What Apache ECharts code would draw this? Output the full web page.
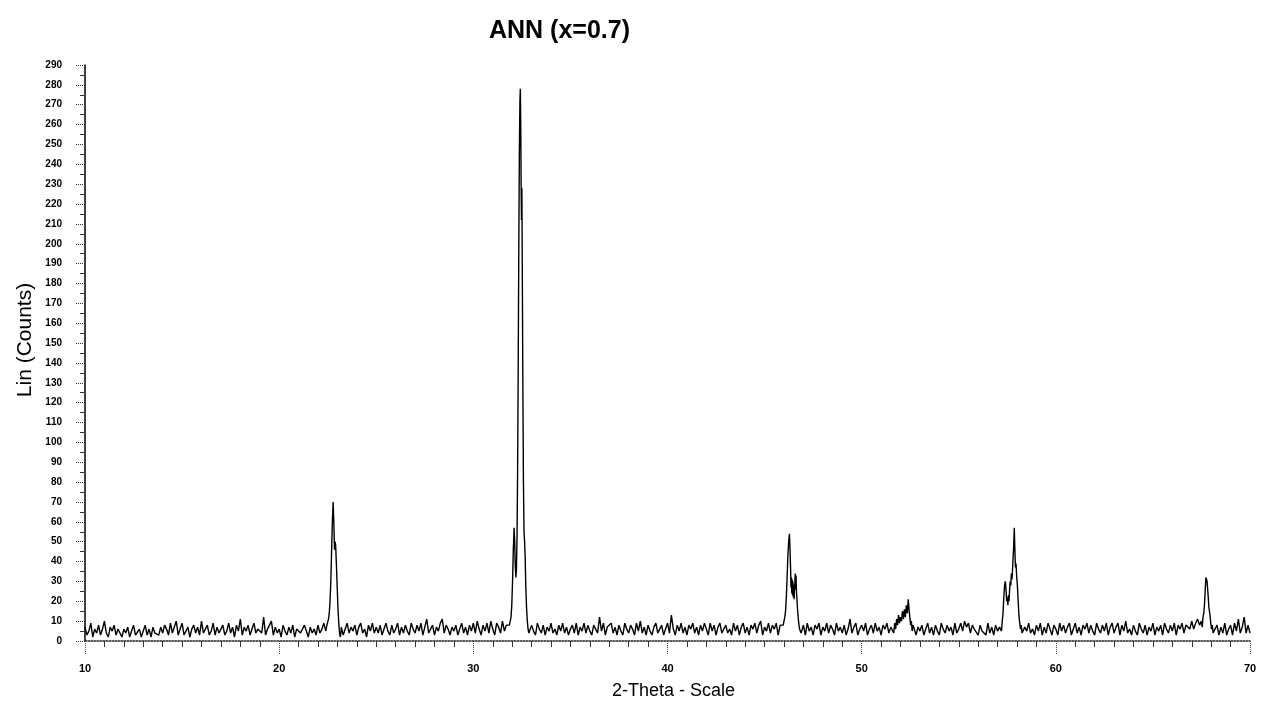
<!DOCTYPE html>
<html>
<head>
<meta charset="UTF-8">
<title>ANN (x=0.7)</title>
<script src="https://cdn.jsdelivr.net/npm/echarts@6/dist/echarts.min.js"></script>
<style>
  html, body { margin: 0; padding: 0; background: #fff; }
  #chart { width: 1262px; height: 701px; }
</style>
</head>
<body>
<div id="chart"></div>
<script>
// background counts, one value every 0.1 degree from 10.0 to 70.0
var bgStart = 10.0;
var bgStep = 0.1;
var background = [
  7,3,5,9,2,6,4,8,3,6,
  10,4,2,7,5,8,3,6,4,2,
  6,4,7,2,5,8,3,4,6,2,
  5,8,3,6,2,7,4,5,3,7,
  4,8,6,3,9,4,5,10,3,6,
  9,3,5,7,2,6,8,4,7,3,
  10,4,6,8,3,5,9,3,7,4,
  6,8,3,5,9,4,7,2,8,5,
  11,3,7,5,8,3,6,9,4,6,
  7,4,12,3,6,5,10,3,7,4,
  6,2,8,5,3,7,4,8,2,6,
  7,4,3,8,5,2,7,4,6,3,
  8,4,6,9,5,7,9,8,8,8,
  8,4,7,3,6,9,4,7,5,8,
  3,7,9,4,6,2,8,5,9,4,
  7,4,8,3,6,9,5,3,8,4,
  6,9,3,7,4,8,5,3,9,6,
  4,8,5,9,3,7,11,4,6,8,
  3,7,5,9,11,4,8,6,3,7,
  5,8,3,6,9,4,7,3,8,5,
  9,4,10,6,3,8,5,9,4,10,
  6,3,9,7,4,10,5,8,9,9,
  9,9,9,9,9,9,9,9,9,4,
  8,5,3,9,6,4,8,3,7,5,
  9,4,6,3,8,5,9,4,7,3,
  6,8,4,9,3,7,5,9,4,8,
  5,3,8,6,4,12,5,9,3,7,
  6,9,4,7,3,8,5,3,9,6,
  4,8,6,3,9,5,10,4,7,3,
  8,5,3,7,9,4,6,8,3,6,
  9,4,13,6,3,8,5,9,4,7,
  3,8,6,9,4,7,3,8,5,9,
  6,3,9,5,8,3,7,9,4,6,
  8,4,6,3,9,5,8,3,7,9,
  4,7,3,8,6,9,4,8,10,3,
  7,5,9,4,8,6,9,3,8,9,
  8,8,8,8,8,8,8,8,8,5,
  8,3,9,5,7,3,8,6,9,3,
  7,5,9,4,8,6,3,9,5,7,
  4,8,3,6,11,4,7,9,3,6,
  8,5,9,3,6,8,4,9,5,7,
  3,8,6,9,4,7,8,8,8,8,
  8,8,8,8,8,8,8,9,3,7,
  5,8,3,6,9,4,7,3,8,5,
  3,9,6,4,8,5,7,3,9,4,
  6,9,5,10,7,9,4,8,6,7,
  3,8,5,6,3,9,4,7,3,8,
  5,7,3,9,4,8,8,8,8,8,
  8,8,8,3,7,5,9,4,6,3,
  8,5,9,3,7,4,9,6,3,8,
  6,3,9,5,8,4,7,9,3,6,
  9,4,7,3,8,6,9,4,8,5,
  3,9,6,4,8,5,9,3,7,9,
  4,7,9,3,8,5,10,4,6,3,
  8,5,3,9,6,4,8,3,7,5,
  9,3,7,5,8,3,9,6,4,8,
  5,9,3,8,6,9,4,8,9,6,
  10,6,9,11,8,10,7,12,12,12,
  12,12,5,8,3,7,4,9,3,6,
  8,3,9,5,11,4,7,12,4,8,
  4
];

// reflections, [2-theta, counts], finer steps
var peak23 = [[22.46,8],[22.50,9],[22.54,11],[22.58,14],[22.62,20],[22.66,30],[22.70,45],[22.74,60],[22.78,70],[22.82,58],[22.85,46],[22.88,50],[22.91,48],[22.95,38],[22.99,27],[23.03,16],[23.07,9],[23.11,4],[23.15,2],[23.19,5]];
var peak32 = [[31.86,8],[31.90,10],[31.94,12],[31.98,18],[32.02,30],[32.06,46],[32.10,57],[32.13,50],[32.16,38],[32.19,32],[32.22,36],[32.25,52],[32.28,85],[32.31,135],[32.34,195],[32.37,245],[32.40,272],[32.42,278],[32.44,262],[32.46,232],[32.48,212],[32.50,228],[32.52,190],[32.55,130],[32.58,80],[32.61,55],[32.64,50],[32.67,42],[32.70,28],[32.74,17],[32.78,10],[32.82,6],[32.86,4]];
var peak46 = [[45.96,8],[46.00,9],[46.04,12],[46.08,15],[46.12,22],[46.16,32],[46.20,43],[46.24,50],[46.28,54],[46.31,46],[46.34,36],[46.36,27],[46.38,32],[46.40,24],[46.42,31],[46.44,23],[46.46,30],[46.48,22],[46.50,28],[46.52,21],[46.54,27],[46.56,29],[46.58,34],[46.60,26],[46.62,33],[46.64,25],[46.66,22],[46.69,17],[46.72,13],[46.76,9],[46.80,6],[46.84,7],[46.88,4]];
var peak52 = [[51.60,8],[51.65,4],[51.70,9],[51.75,6],[51.80,11],[51.85,8],[51.90,13],[51.95,9],[52.00,12],[52.05,10],[52.10,15],[52.15,11],[52.20,16],[52.25,12],[52.30,18],[52.35,14],[52.40,21],[52.44,16],[52.48,12],[52.52,8],[52.56,10],[52.60,5],[52.65,8]];
var peak57 = [[57.16,8],[57.20,5],[57.24,10],[57.28,14],[57.32,22],[57.36,28],[57.40,30],[57.44,25],[57.47,20],[57.50,22],[57.53,18],[57.56,23],[57.59,20],[57.62,26],[57.65,30],[57.68,28],[57.71,34],[57.74,31],[57.77,36],[57.80,42],[57.83,48],[57.86,57],[57.89,46],[57.92,37],[57.95,39],[57.98,33],[58.02,28],[58.06,20],[58.10,13],[58.14,9],[58.18,6],[58.22,8],[58.26,4]];
var peak67 = [[67.50,10],[67.54,7],[67.58,12],[67.62,14],[67.66,19],[67.70,27],[67.73,32],[67.76,33],[67.79,30],[67.82,31],[67.85,22],[67.88,17],[67.91,18],[67.94,13],[67.98,9],[68.02,6],[68.06,8],[68.10,4]];

var peaks = [peak23, peak32, peak46, peak52, peak57, peak67];

// background points outside the peak windows, then the peaks
var points = [];
for (var i = 0; i < background.length; i++) {
  var x = +(bgStart + i * bgStep).toFixed(2);
  var inPeak = peaks.some(function (p) {
    return x >= p[0][0] && x <= p[p.length - 1][0];
  });
  if (!inPeak) points.push([x, background[i]]);
}
peaks.forEach(function (p) { points = points.concat(p); });
points.sort(function (a, b) { return a[0] - b[0]; });

var chart = echarts.init(document.getElementById('chart'));

var option = {
  backgroundColor: '#fff',
  animation: false,
  title: {
    text: 'ANN (x=0.7)',
    left: 484,
    top: 14,
    textStyle: { fontFamily: 'Liberation Sans', fontWeight: 'bold', fontSize: 25, color: '#000' }
  },
  graphic: [{
    type: 'text',
    x: 25,
    y: 340,
    rotation: Math.PI / 2,
    style: {
      text: 'Lin (Counts)',
      fontFamily: 'Liberation Sans',
      fontSize: 21,
      fill: '#000',
      textAlign: 'center',
      textVerticalAlign: 'middle'
    }
  }],
  grid: { left: 85, right: 12, top: 65, bottom: 60, outerBoundsMode: 'none' },
  xAxis: {
    type: 'value',
    min: 10,
    max: 70,
    interval: 10,
    name: '2-Theta - Scale',
    nameLocation: 'middle',
    nameGap: 41,
    nameTextStyle: { fontFamily: 'Liberation Sans', fontSize: 18, color: '#000', padding: [0, 0, 0, 12] },
    axisLine: { lineStyle: { color: '#222', width: 1.5, type: 'dotted' } },
    axisTick: { length: 14, lineStyle: { color: '#444', width: 1, type: 'dotted' } },
    minorTick: { show: true, splitNumber: 10, length: 6, lineStyle: { color: '#333', width: 1 } },
    axisLabel: { margin: 22, fontFamily: 'Liberation Sans', fontWeight: 'bold', fontSize: 11, color: '#000' },
    splitLine: { show: false }
  },
  yAxis: {
    type: 'value',
    min: 0,
    max: 290,
    interval: 10,
    axisLine: { show: true, lineStyle: { color: '#000', width: 1.5 } },
    axisTick: { length: 10, lineStyle: { color: '#333', width: 1, type: 'dotted' } },
    minorTick: { show: true, splitNumber: 2, length: 5, lineStyle: { color: '#333', width: 1 } },
    axisLabel: { margin: 23, fontFamily: 'Liberation Sans', fontWeight: 'bold', fontSize: 10, color: '#000' },
    splitLine: { show: false }
  },
  series: [{
    type: 'line',
    data: points,
    showSymbol: false,
    symbol: 'none',
    lineStyle: { color: '#000', width: 1.4 }
  }]
};

chart.setOption(option);
</script>
</body>
</html>
